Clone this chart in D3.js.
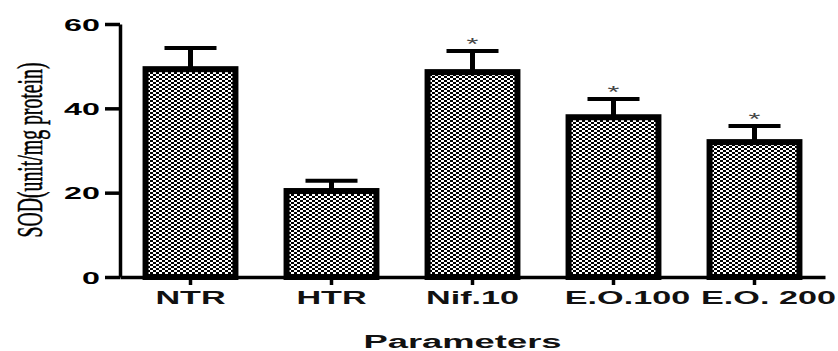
<!DOCTYPE html>
<html>
<head>
<meta charset="utf-8">
<script src="https://cdn.jsdelivr.net/npm/d3@7.8.5/dist/d3.min.js"></script>
<style>
  html, body { margin: 0; padding: 0; background: #fff; }
  svg { display: block; }
</style>
</head>
<body>
<div id="chart"></div>
<script>
const groups = ['NTR', 'HTR', 'Nif.10', 'E.O.100', 'E.O. 200'];
const sodMean = [50.0, 21.1, 49.3, 38.6, 32.7];
const sodSem = [4.3, 1.7, 4.3, 3.6, 3.1];
const signif = [false, false, true, true, true];
const yTicks = [0, 20, 40, 60];

const width = 838, height = 351;
const margin = { top: 24, right: 13, bottom: 74, left: 120 };
const stretch = 1.9; // the source picture is widened horizontally

const svg = d3.select('#chart').append('svg')
  .attr('width', width)
  .attr('height', height);

// dashed checker fill like the original
const pat = svg.append('defs').append('pattern')
  .attr('id', 'dots')
  .attr('patternUnits', 'userSpaceOnUse')
  .attr('width', 6)
  .attr('height', 4);
pat.append('rect').attr('width', 6).attr('height', 4).attr('fill', '#fff');
pat.append('rect').attr('x', 0).attr('y', 0).attr('width', 3).attr('height', 2).attr('fill', '#000');
pat.append('rect').attr('x', 3).attr('y', 2).attr('width', 3).attr('height', 2).attr('fill', '#000');

const x = d3.scaleBand()
  .domain(groups)
  .range([margin.left, width - margin.right])
  .paddingInner(0.32)
  .paddingOuter(0.16);

const y = d3.scaleLinear()
  .domain([0, 60])
  .range([height - margin.bottom, margin.top]);

const base = y(0);
const bw = x.bandwidth();
const border = 6;

const data = groups.map((g, i) => ({ g, v: sodMean[i], e: sodSem[i], s: signif[i] }));

// error bars (upper only, drawn behind the bars)
const err = svg.append('g').selectAll('g').data(data).enter().append('g');
err.append('line')
  .attr('x1', d => x(d.g) + bw / 2)
  .attr('x2', d => x(d.g) + bw / 2)
  .attr('y1', d => y(d.v) + 2)
  .attr('y2', d => y(d.v + d.e))
  .attr('stroke', '#000')
  .attr('stroke-width', 5);
err.append('line')
  .attr('x1', d => x(d.g) + bw / 2 - 26)
  .attr('x2', d => x(d.g) + bw / 2 + 26)
  .attr('y1', d => y(d.v + d.e))
  .attr('y2', d => y(d.v + d.e))
  .attr('stroke', '#000')
  .attr('stroke-width', 4);

// bars
svg.append('g').selectAll('rect').data(data).enter().append('rect')
  .attr('x', d => x(d.g) + border / 2)
  .attr('y', d => y(d.v) + border / 2)
  .attr('width', bw - border)
  .attr('height', d => base - y(d.v) - border / 2)
  .attr('fill', 'url(#dots)')
  .attr('stroke', '#000')
  .attr('stroke-width', border);

// asterisks
svg.append('g').selectAll('text').data(data.filter(d => d.s)).enter().append('text')
  .attr('transform', d => `translate(${x(d.g) + bw / 2},${y(d.v + d.e) - 1}) scale(${stretch},1)`)
  .attr('text-anchor', 'middle')
  .attr('font-family', 'Liberation Sans, Arial, sans-serif')
  .attr('font-size', 16)
  .attr('fill', '#444')
  .text('*');

// y axis
const yAxis = svg.append('g')
  .attr('transform', `translate(${margin.left},0)`)
  .call(d3.axisLeft(y).tickValues(yTicks).tickSize(15).tickSizeOuter(0).tickFormat(''));
yAxis.selectAll('path, line').attr('stroke', '#000').attr('stroke-width', 3.5);
yAxis.selectAll('.tick').append('text')
  .attr('transform', `translate(-20,0) scale(${stretch},1)`)
  .attr('text-anchor', 'end')
  .attr('dy', '0.36em')
  .attr('fill', '#000')
  .attr('font-family', 'Liberation Sans, Arial, sans-serif')
  .attr('font-weight', 'bold')
  .attr('font-size', 17)
  .text(d => d);

// x axis
const xAxis = svg.append('g')
  .attr('transform', `translate(0,${base})`)
  .call(d3.axisBottom(x).tickSize(8).tickSizeOuter(0).tickFormat(''));
xAxis.selectAll('path, line').attr('stroke', '#000').attr('stroke-width', 3.5);
xAxis.selectAll('.tick').append('text')
  .attr('transform', d => `translate(${d.startsWith('E.O.') ? 14 : 0},27) scale(${stretch},1)`)
  .attr('text-anchor', 'middle')
  .attr('fill', '#111')
  .attr('font-family', 'Liberation Sans, Arial, sans-serif')
  .attr('font-weight', 'bold')
  .attr('font-size', 18)
  .text(d => d);

// axis titles
svg.append('text')
  .attr('transform', `translate(${(margin.left + width - margin.right) / 2 - 10},348) scale(2.02,1)`)
  .attr('text-anchor', 'middle')
  .attr('fill', '#111')
  .attr('font-family', 'Liberation Sans, Arial, sans-serif')
  .attr('font-weight', 'bold')
  .attr('font-size', 18)
  .text('Parameters');

svg.append('text')
  .attr('transform', 'translate(30,150) rotate(-90) scale(1,1.8)')
  .attr('text-anchor', 'middle')
  .attr('dominant-baseline', 'central')
  .attr('fill', '#000')
  .attr('stroke', '#000')
  .attr('stroke-width', 0.3)
  .attr('font-family', 'Liberation Serif, Times New Roman, serif')
  .attr('font-size', 20)
  .attr('textLength', 175)
  .attr('lengthAdjust', 'spacingAndGlyphs')
  .text('SOD(unit/mg protein)');
</script>
</body>
</html>
